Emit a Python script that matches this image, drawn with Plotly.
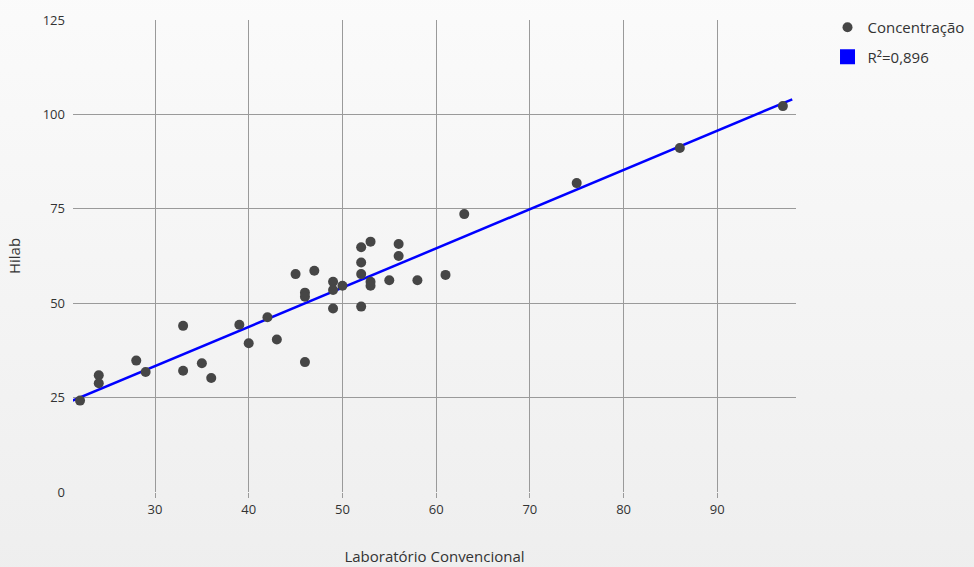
import plotly.graph_objects as go
import base64

# Data
lab_conv = [22, 24, 24, 28, 29, 33, 33, 35, 36, 39, 40, 42, 43, 45, 46, 46, 46, 47,
            49, 49, 49, 50, 52, 52, 52, 52, 53, 53, 53, 55, 56, 56, 58, 61, 63, 75, 86, 97]
hilab = [24.2, 30.9, 28.8, 34.8, 31.8, 44.0, 32.1, 34.1, 30.2, 44.3, 39.4, 46.3, 40.4,
         57.7, 34.4, 52.8, 51.7, 58.6, 55.7, 53.5, 48.6, 54.6, 64.8, 60.8, 57.7, 49.1,
         66.3, 55.7, 54.6, 56.1, 65.7, 62.5, 56.1, 57.5, 73.6, 81.8, 91.1, 102.2]

trend_x = [21.2, 98.0]
trend_y = [24.2, 104.0]

x_ticks = [30, 40, 50, 60, 70, 80, 90]
y_ticks = [0, 25, 50, 75, 100, 125]

series_name = "Concentração"
trend_name = "R²=0,896"

FONT = "Open Sans"
TXT = "#333333"
GRID = "#9a9a9a"

svg = ('<svg xmlns="http://www.w3.org/2000/svg" width="100" height="100" preserveAspectRatio="none">'
       '<defs><linearGradient id="g" x1="0" y1="0" x2="0" y2="1">'
       '<stop offset="0" stop-color="#fbfbfb"/><stop offset="1" stop-color="#eeeeee"/>'
       '</linearGradient></defs><rect width="100" height="100" fill="url(#g)"/></svg>')
bg_src = "data:image/svg+xml;base64," + base64.b64encode(svg.encode()).decode()

fig = go.Figure()
fig.add_trace(go.Scatter(
    x=trend_x, y=trend_y, mode="lines",
    line=dict(color="#0000ff", width=2.5),
    showlegend=False, hoverinfo="skip"))
fig.add_trace(go.Scatter(
    x=lab_conv, y=hilab, mode="markers", name=series_name, legendgroup="a",
    marker=dict(color="#464646", size=10, line=dict(width=0))))
fig.add_trace(go.Scatter(
    x=[None], y=[None], mode="markers", name=trend_name, legendgroup="b",
    marker=dict(color="#0000ff", size=15, symbol="square", line=dict(width=0))))

fig.update_layout(
    width=974, height=567,
    margin=dict(l=73, r=178, t=20, b=75, autoexpand=False),
    paper_bgcolor="#f5f5f5",
    plot_bgcolor="rgba(0,0,0,0)",
    font=dict(family=FONT, size=13, color=TXT),
    images=[dict(source=bg_src, xref="paper", yref="paper", x=-0.2, y=1.1,
                 sizex=1.5, sizey=1.3, sizing="stretch", xanchor="left",
                 yanchor="top", layer="below")],
    legend=dict(xref="container", yref="container", x=0.8496, y=0.9806,
                xanchor="left", yanchor="top",
                font=dict(family=FONT, size=15, color=TXT),
                bgcolor="rgba(0,0,0,0)", itemsizing="trace",
                tracegroupgap=7),
    xaxis=dict(range=[21.25, 98.4], tickvals=x_ticks, showgrid=True,
               gridcolor=GRID, gridwidth=1, zeroline=False, showline=False,
               ticks="outside", ticklen=5, tickcolor=GRID, automargin=False,
               tickfont=dict(size=13, color=TXT),
               title=dict(text="Laboratório Convencional", standoff=34,
                          font=dict(size=15, color=TXT))),
    yaxis=dict(range=[0, 125], tickvals=y_ticks, showgrid=True,
               gridcolor=GRID, gridwidth=1, zeroline=False, showline=False,
               ticks="", ticklabelstandoff=7, automargin=False,
               tickfont=dict(size=13, color=TXT),
               title=dict(text="Hilab", standoff=18,
                          font=dict(size=15, color=TXT))),
)

fig.write_html("out.html")
